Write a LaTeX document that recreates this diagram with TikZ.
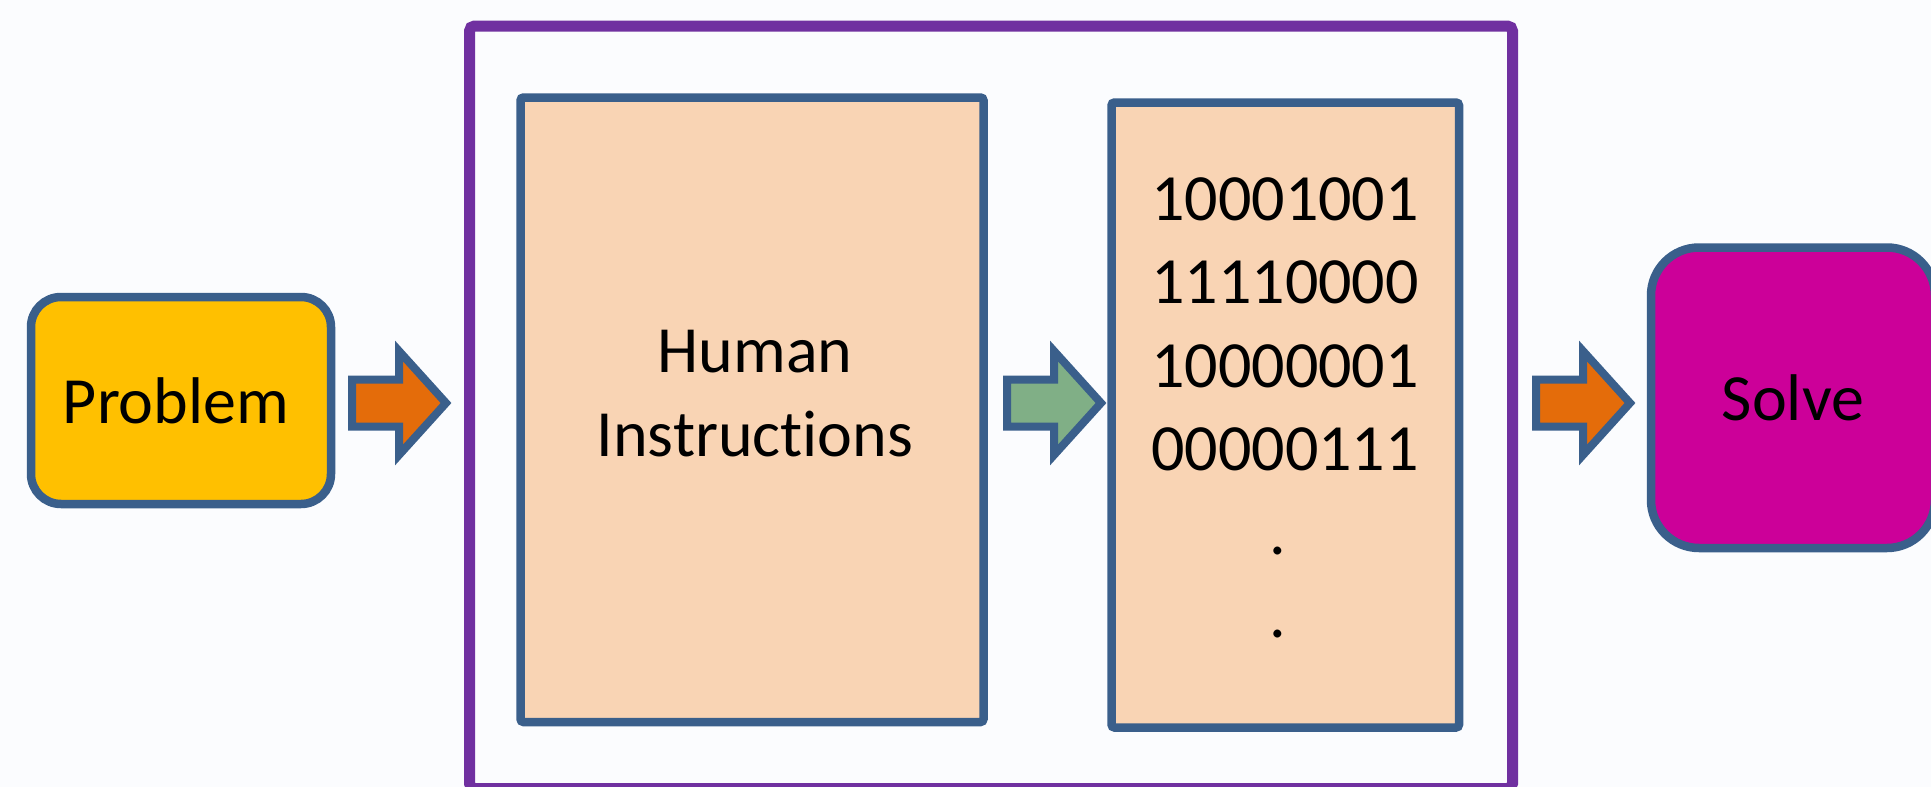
\documentclass[tikz,border=0pt]{standalone}
\usepackage{fontspec}
\setmainfont{Carlito}[Ligatures=NoCommon]
\definecolor{pagebg}{HTML}{FBFCFE}
\definecolor{edgeblue}{HTML}{3A5F8B}
\definecolor{peach}{HTML}{F9D4B4}
\definecolor{gold}{HTML}{FFC000}
\definecolor{arroworange}{HTML}{E46C0A}
\definecolor{arrowgreen}{HTML}{80AF86}
\definecolor{framepurple}{HTML}{7030A0}
\definecolor{magenta}{HTML}{CC0099}
\tikzset{
  bigtext/.style={font=\fontsize{66}{83.5}\selectfont, text=black},
  roundbox/.style={draw=edgeblue, line width=8.5pt, rectangle, inner sep=0pt, bigtext},
  panel/.style={draw=edgeblue, fill=peach, line width=8.5pt, rectangle,
    rounded corners=3pt, inner sep=0pt},
  outerframe/.style={draw=framepurple, line width=11pt, rectangle,
    rounded corners=5pt, inner sep=0pt},
  arrowline/.style={draw=edgeblue, line width=8pt, line join=miter},
  paneltext/.style={bigtext, inner sep=0pt, align=center, anchor=north},
  blockarrow/.pic={
    \path[pic actions] (0,-23.5) -- (47,-23.5) -- (47,-52) -- (94,0)
      -- (47,52) -- (47,23.5) -- (0,23.5) -- cycle;
  }
}
\begin{document}
\begin{tikzpicture}[x=1pt, y=-1pt]
  \useasboundingbox (0,0) rectangle (1931,787);
  \clip (0,0) rectangle (1931,787);
  \fill[pagebg] (0,0) rectangle (1931,787);

  % outer purple frame around the translation step
  \node[outerframe, minimum width=1043pt, minimum height=762.5pt] (frame) at (991,407.25) {};

  % start and end boxes
  \node[roundbox, fill=gold, rounded corners=30pt,
        minimum width=300pt, minimum height=207pt] (problem) at (181,400.5) {Problem\kern10pt};
  \node[roundbox, fill=magenta, rounded corners=48pt,
        minimum width=284pt, minimum height=300.5pt] (solve) at (1793,397.75) {Solve};

  % the two panels inside the frame
  \node[panel, minimum width=463pt, minimum height=624.5pt] (human) at (752,409.75) {};
  \node[paneltext] (humantext) at (755,330) {Human\\Instructions};

  \node[panel, minimum width=347.5pt, minimum height=625pt] (machine) at (1285.25,415) {};
  \node[paneltext] (machinetext) at (1285,177)
    {10001001\\11110000\\10000001\\00000111\\.\kern15pt\\.\kern15pt};

  % block arrows between the stages
  \pic[arrowline, fill=arroworange] (toframe) at (352,403) {blockarrow};
  \pic[arrowline, fill=arrowgreen] (tomachine) at (1007,403) {blockarrow};
  \pic[arrowline, fill=arroworange] (tosolve) at (1536,403) {blockarrow};
\end{tikzpicture}
\end{document}
